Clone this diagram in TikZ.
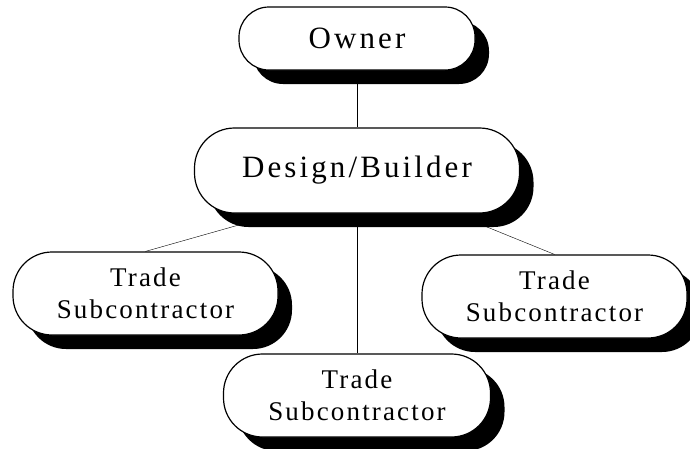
\documentclass[tikz,border=0pt]{standalone}
\usepackage{fontspec}
\setmainfont{Liberation Serif}
\newfontfamily\bigfont[LetterSpace=10]{Liberation Serif}
\newfontfamily\smallfont[LetterSpace=8]{Liberation Serif}
\usetikzlibrary{shadows, backgrounds, calc}

\begin{document}
\begin{tikzpicture}[x=1pt, y=-1pt,
	party/.style={draw, line width=1.2pt, fill=white, rounded corners=#1, align=center, inner sep=0pt,
		drop shadow={shadow xshift=14pt, shadow yshift=-14pt, fill=black, opacity=1}},
	big/.style={font=\bigfont\fontsize{31}{36}\selectfont},
	small/.style={font=\smallfont\fontsize{27}{32}\selectfont}]
\useasboundingbox (0,0) rectangle (690,448);

\node[party=30pt, big, minimum width=236pt, minimum height=63pt] (owner) at (357,38.5) {Owner};
\node[party=40pt, big, minimum width=325pt, minimum height=85pt] (design) at (357,170.5) {Design/Builder};
\node[party=39pt, small, minimum width=265pt, minimum height=83pt] (left) at (145.5,293.5) {Trade\\Subcontractor};
\node[party=39pt, small, minimum width=265pt, minimum height=83pt] (right) at (554.5,296.5) {Trade\\Subcontractor};
\node[party=39pt, small, minimum width=267pt, minimum height=83pt] (bottom) at (357,395.5) {Trade\\Subcontractor};

\begin{scope}[on background layer, line width=1.6pt]
	\draw (owner) -- (design);
	\draw (design) -- (bottom);
	\draw ($(design.south)+(-78,0)$) -- (left.north);
	\draw ($(design.south)+(97,0)$) -- (right.north);
\end{scope}
\end{tikzpicture}
\end{document}
